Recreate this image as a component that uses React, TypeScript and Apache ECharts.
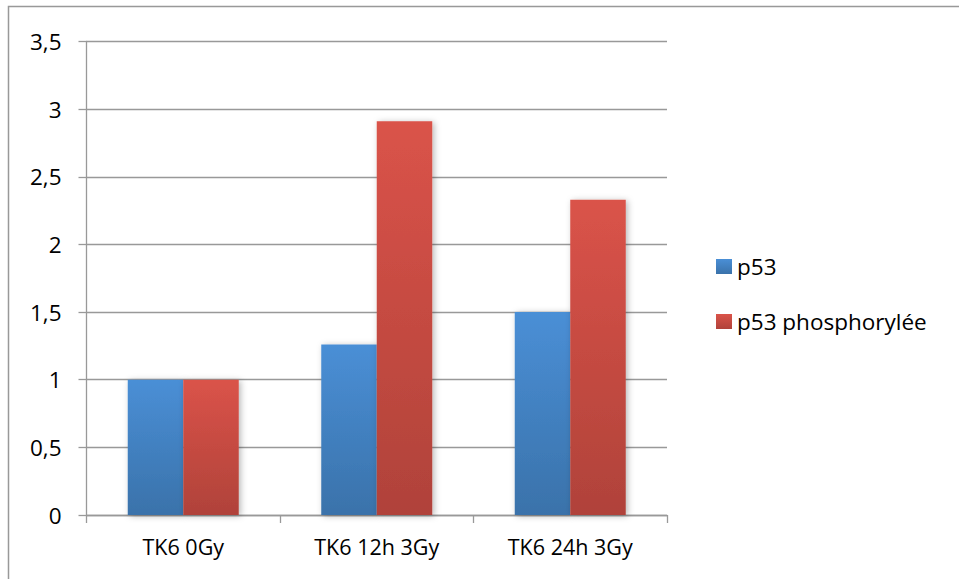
import React, { useEffect, useRef } from "react";
import * as echarts from "echarts";

const categories = ["TK6 0Gy", "TK6 12h 3Gy", "TK6 24h 3Gy"];
const p53Values = [1, 1.26, 1.5];
const p53PhosphoValues = [1, 2.91, 2.33];
const seriesNames = ["p53", "p53 phosphorylée"];

const FONT = "'Open Sans', 'Noto Sans', sans-serif";
const GRID_COLOR = "#999999";

const grad = (top: string, bottom: string) =>
  new echarts.graphic.LinearGradient(0, 0, 0, 1, [
    { offset: 0, color: top },
    { offset: 1, color: bottom },
  ]);

export default function App() {
  const ref = useRef<HTMLDivElement>(null);

  useEffect(() => {
    if (!ref.current) return;
    const chart = echarts.init(ref.current, undefined, { renderer: "svg" });
    const shadow = {
      shadowBlur: 6,
      shadowColor: "rgba(0,0,0,0.28)",
      shadowOffsetX: 2,
      shadowOffsetY: 1,
    };
    chart.setOption({
      animation: false,
      backgroundColor: "#ffffff",
      textStyle: { fontFamily: FONT },
      graphic: [
        {
          type: "rect",
          shape: { x: 8.5, y: 6.5, width: 1000, height: 1000 },
          style: { fill: "none", stroke: GRID_COLOR, lineWidth: 1.5 },
          silent: true,
          z: -1,
        },
      ],
      grid: { left: 86.5, top: 41.5, right: 292, bottom: 64, containLabel: false },
      legend: {
        orient: "vertical",
        left: 716,
        top: 255,
        padding: 0,
        itemWidth: 16,
        itemHeight: 15,
        itemGap: 32,
        icon: "rect",
        data: seriesNames,
        textStyle: { fontFamily: FONT, fontSize: 22.5, color: "#000" },
      },
      xAxis: {
        type: "category",
        data: categories,
        axisLine: { show: true, lineStyle: { color: GRID_COLOR, width: 1.3 } },
        axisTick: { show: true, length: 8, lineStyle: { color: GRID_COLOR, width: 1.3 } },
        axisLabel: { fontFamily: FONT, fontSize: 21.5, color: "#000", margin: 20 },
      },
      yAxis: {
        type: "value",
        min: 0,
        max: 3.5,
        interval: 0.5,
        axisLine: { show: true, lineStyle: { color: GRID_COLOR, width: 1.3 } },
        axisTick: { show: true, length: 8, lineStyle: { color: GRID_COLOR, width: 1.3 } },
        splitLine: { show: true, lineStyle: { color: GRID_COLOR, width: 1.3 } },
        axisLabel: {
          fontFamily: FONT,
          fontSize: 22.5,
          color: "#000",
          margin: 25,
          padding: [8, 0, 0, 0],
          formatter: (v: number) => String(v).replace(".", ","),
        },
      },
      series: [
        {
          name: seriesNames[0],
          type: "bar",
          data: p53Values,
          barWidth: 55.5,
          barGap: "0%",
          itemStyle: { color: grad("#4a8fd6", "#3a72aa"), ...shadow },
        },
        {
          name: seriesNames[1],
          type: "bar",
          data: p53PhosphoValues,
          barWidth: 55.5,
          barGap: "0%",
          itemStyle: { color: grad("#da5349", "#b0423a"), ...shadow },
        },
      ],
    });
    return () => chart.dispose();
  }, []);

  return (
    <div
      ref={ref}
      style={{ position: "fixed", left: 0, top: 0, width: 959, height: 579 }}
    />
  );
}
